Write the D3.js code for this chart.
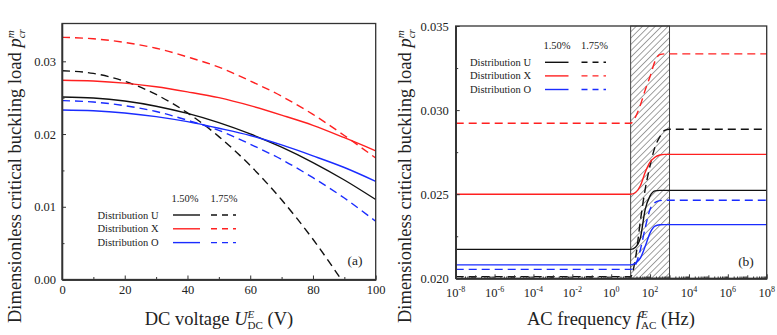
<!doctype html>
<html lang="en">
<head>
    <meta charset="utf-8">
    <script src="https://d3js.org/d3.v7.min.js"></script>
    <style>
        body { margin: 0; background: #fff; }
        svg text { font-family: "Liberation Serif", "Times New Roman", "DejaVu Serif", serif !important; fill: #222; }
    </style>
</head>
<body>
<script>
    // ---- Panel (a): buckling load vs DC voltage ----
    const dcVoltage    = [0, 10, 20, 30, 40, 50, 60, 70, 80, 90, 100];
    const dcVoltageU175 = [0, 10, 20, 30, 40, 50, 60, 70, 80, 89];
    const dcU150 = [0.0251, 0.02496, 0.02454, 0.02383, 0.02284, 0.02158, 0.02002, 0.01819, 0.01608, 0.01368, 0.0110];
    const dcU175 = [0.0287, 0.02834, 0.02725, 0.02544, 0.02291, 0.01965, 0.01567, 0.01096, 0.00553, 0.0];
    const dcX150 = [0.0274, 0.0273, 0.0270, 0.0265, 0.0258, 0.0250, 0.0239, 0.0226, 0.0212, 0.0195, 0.0177];
    const dcX175 = [0.0333, 0.0331, 0.0326, 0.0318, 0.0306, 0.0292, 0.0273, 0.0252, 0.0227, 0.0198, 0.0167];
    const dcO150 = [0.0233, 0.0232, 0.0229, 0.0224, 0.0217, 0.0208, 0.0198, 0.0185, 0.0170, 0.0154, 0.0135];
    const dcO175 = [0.0246, 0.0244, 0.0239, 0.0231, 0.0219, 0.0205, 0.0186, 0.0165, 0.0140, 0.0112, 0.0080];

    // ---- Panel (b): buckling load vs AC frequency ----
    const acFreq = [1e-8, 10, 17.8, 31.6, 56.2, 100, 178, 316, 562, 1000, 1e8];
    const acU150 = [0.02172, 0.02172, 0.02185, 0.0224, 0.0241, 0.0249, 0.0252, 0.02523, 0.02523, 0.02523, 0.02523];
    const acU175 = [0.0201, 0.0201, 0.0212, 0.0234, 0.0253, 0.0267, 0.0278, 0.0284, 0.0288, 0.02886, 0.02886];
    const acX150 = [0.0250, 0.0250, 0.0251, 0.0255, 0.0263, 0.0269, 0.0272, 0.02733, 0.02737, 0.02737, 0.02737];
    const acX175 = [0.02922, 0.02922, 0.0296, 0.0303, 0.0312, 0.0320, 0.0329, 0.0333, 0.03334, 0.03334, 0.03334];
    const acO150 = [0.0208, 0.0208, 0.0209, 0.0212, 0.0219, 0.0227, 0.0231, 0.02318, 0.02319, 0.02319, 0.02319];
    const acO175 = [0.02053, 0.02053, 0.0208, 0.0217, 0.0230, 0.0241, 0.0245, 0.02462, 0.02464, 0.02464, 0.02464];
    const hatchRange = [10, 1000];

    // ticks and legend text
    const dcXTicks = [0, 20, 40, 60, 80, 100];
    const dcXMinor = [10, 30, 50, 70, 90];
    const dcYTicks = [0, 0.01, 0.02, 0.03];
    const dcYMinor = [0.005, 0.015, 0.025];
    const acXTickExp = [-8, -6, -4, -2, 0, 2, 4, 6, 8];
    const acYTicks = [0.020, 0.025, 0.030, 0.035];
    const acYMinor = [0.0225, 0.0275, 0.0325];
    const legendRows = ["Distribution U", "Distribution X", "Distribution O"];
    const legendCols = ["1.50%", "1.75%"];

    const colors = ["#111111", "#ff2020", "#1a2cff"];
    const dashes = "8,5";
    const serif = "'Liberation Serif', 'Times New Roman', serif";

    const svg = d3.select("body").append("svg")
        .attr("width", 777).attr("height", 335)
        .attr("font-family", serif);

    // hatch pattern for the transition band
    const defs = svg.append("defs");
    const pat = defs.append("pattern")
        .attr("id", "hatch").attr("patternUnits", "userSpaceOnUse")
        .attr("width", 4.5).attr("height", 4.5)
        .attr("patternTransform", "rotate(45)");
    pat.append("line").attr("x1", 0).attr("y1", 0).attr("x2", 0).attr("y2", 4.5)
        .attr("stroke", "#444").attr("stroke-width", 1);

    // builds a label like "DC voltage U^E_DC (V)" with stacked sup/sub
    function fancyLabel(t, pre, sym, sup, sub, post, size) {
        t.append("tspan").text(pre);
        t.append("tspan").attr("font-style", "italic").text(sym);
        const small = size * 0.6;
        const s1 = t.append("tspan").attr("font-style", "italic").attr("font-size", small)
            .attr("dy", -size * 0.38).text(sup);
        const w = s1.node().getComputedTextLength();
        t.append("tspan").attr("font-size", small).attr("font-style", sub.italic ? "italic" : null)
            .attr("dx", -w).attr("dy", size * 0.62).text(sub.text);
        if (post) t.append("tspan").attr("dy", -size * 0.24).text(post);
    }

    /* ---------- Panel (a) ---------- */
    const ax = d3.scaleLinear().domain([0, 100]).range([62, 375.7]);
    const ay = d3.scaleLinear().domain([0, 0.0352]).range([279.5, 23.5]);

    const gA = svg.append("g");
    const lineA = d3.line().x(d => ax(d[0])).y(d => ay(d[1])).curve(d3.curveMonotoneX);
    const dcSeries = [
        { v: dcVoltage, y: dcU150, c: 0, dash: false },
        { v: dcVoltageU175, y: dcU175, c: 0, dash: true },
        { v: dcVoltage, y: dcX150, c: 1, dash: false },
        { v: dcVoltage, y: dcX175, c: 1, dash: true },
        { v: dcVoltage, y: dcO150, c: 2, dash: false },
        { v: dcVoltage, y: dcO175, c: 2, dash: true }
    ];
    dcSeries.forEach(s => {
        gA.append("path")
            .datum(s.v.map((v, i) => [v, s.y[i]]))
            .attr("fill", "none")
            .attr("stroke", colors[s.c])
            .attr("stroke-width", 1.4)
            .attr("stroke-dasharray", s.dash ? dashes : null)
            .attr("d", lineA);
    });

    // axes (ticks inside)
    gA.append("g").attr("transform", "translate(0,279.5)")
        .call(d3.axisBottom(ax).tickValues(dcXTicks).tickSizeInner(-4).tickSizeOuter(0).tickPadding(6));
    gA.append("g").attr("transform", "translate(0,279.5)")
        .call(d3.axisBottom(ax).tickValues(dcXMinor).tickSizeInner(-2.5).tickSizeOuter(0).tickFormat(""));
    gA.append("g").attr("transform", "translate(62,0)")
        .call(d3.axisLeft(ay).tickValues(dcYTicks).tickFormat(d3.format(".2f")).tickSizeInner(-4).tickSizeOuter(0).tickPadding(6));
    gA.append("g").attr("transform", "translate(62,0)")
        .call(d3.axisLeft(ay).tickValues(dcYMinor).tickSizeInner(-2.5).tickSizeOuter(0).tickFormat(""));

    gA.append("rect").attr("x", 62).attr("y", 23.5).attr("width", 375.7 - 62).attr("height", 279.5 - 23.5)
        .attr("fill", "none").attr("stroke", "#333").attr("stroke-width", 1.3);

    gA.append("text").attr("x", 355).attr("y", 265).attr("text-anchor", "middle")
        .attr("font-size", 13.5).text("(a)");

    // legend
    function drawLegend(g, x0, y0, rowH, lineX, dashX) {
        g.append("text").attr("x", lineX[0] + 12).attr("y", y0 - rowH * 0.95)
            .attr("text-anchor", "middle").attr("font-size", 10.5).text(legendCols[0]);
        g.append("text").attr("x", dashX[0] + 13).attr("y", y0 - rowH * 0.95)
            .attr("text-anchor", "middle").attr("font-size", 10.5).text(legendCols[1]);
        legendRows.forEach((r, i) => {
            const yy = y0 + i * rowH;
            g.append("text").attr("x", x0).attr("y", yy + 3.5).attr("font-size", 10.5).text(r);
            g.append("line").attr("x1", lineX[0]).attr("x2", lineX[1]).attr("y1", yy).attr("y2", yy)
                .attr("stroke", colors[i]).attr("stroke-width", 1.4);
            g.append("line").attr("x1", dashX[0]).attr("x2", dashX[1]).attr("y1", yy).attr("y2", yy)
                .attr("stroke", colors[i]).attr("stroke-width", 1.4).attr("stroke-dasharray", "6,5");
        });
    }
    drawLegend(gA, 97.5, 215, 13.8, [173, 200], [211, 236]);

    /* ---------- Panel (b) ---------- */
    const bx = d3.scaleLog().domain([1e-8, 1e8]).range([455.7, 766.7]);
    const by = d3.scaleLinear().domain([0.020, 0.035]).range([278.3, 26]);
    const gB = svg.append("g");

    gB.append("rect")
        .attr("x", bx(hatchRange[0])).attr("y", by(0.035))
        .attr("width", bx(hatchRange[1]) - bx(hatchRange[0]))
        .attr("height", by(0.020) - by(0.035))
        .attr("fill", "url(#hatch)").attr("stroke", "#444").attr("stroke-width", 1);

    const lineB = d3.line().x(d => bx(d[0])).y(d => by(d[1])).curve(d3.curveMonotoneX);
    const acSeries = [
        { y: acX175, c: 1, dash: true },
        { y: acU175, c: 0, dash: true },
        { y: acX150, c: 1, dash: false },
        { y: acU150, c: 0, dash: false },
        { y: acO175, c: 2, dash: true },
        { y: acO150, c: 2, dash: false }
    ];
    acSeries.forEach(s => {
        gB.append("path")
            .datum(acFreq.map((f, i) => [f, s.y[i]]))
            .attr("fill", "none")
            .attr("stroke", colors[s.c])
            .attr("stroke-width", 1.4)
            .attr("stroke-dasharray", s.dash ? dashes : null)
            .attr("d", lineB);
    });

    // log x ticks: majors every two decades, minors every decade and sub-decade
    const majorF = acXTickExp.map(e => Math.pow(10, e));
    const decadeF = d3.range(-7, 8, 2).map(e => Math.pow(10, e));
    const subF = [];
    for (let e = -8; e < 8; e++) for (let k = 2; k < 10; k++) subF.push(k * Math.pow(10, e));
    gB.append("g").attr("transform", "translate(0,278.3)")
        .call(d3.axisBottom(bx).tickValues(majorF).tickSizeInner(-4).tickSizeOuter(0).tickFormat(""));
    gB.append("g").attr("transform", "translate(0,278.3)")
        .call(d3.axisBottom(bx).tickValues(decadeF).tickSizeInner(-3).tickSizeOuter(0).tickFormat(""));
    gB.append("g").attr("transform", "translate(0,278.3)")
        .call(d3.axisBottom(bx).tickValues(subF).tickSizeInner(-1.8).tickSizeOuter(0).tickFormat(""));
    acXTickExp.forEach(e => {
        const t = gB.append("text").attr("x", bx(Math.pow(10, e))).attr("y", 297)
            .attr("text-anchor", "middle").attr("font-size", 12.5);
        t.append("tspan").text("10");
        t.append("tspan").attr("font-size", 8).attr("dy", -5).text(e < 0 ? "-" + (-e) : e);
    });

    gB.append("g").attr("transform", "translate(455.7,0)")
        .call(d3.axisLeft(by).tickValues(acYTicks).tickFormat(d3.format(".3f")).tickSizeInner(-4).tickSizeOuter(0).tickPadding(7));
    gB.append("g").attr("transform", "translate(455.7,0)")
        .call(d3.axisLeft(by).tickValues(acYMinor).tickSizeInner(-2.5).tickSizeOuter(0).tickFormat(""));

    gB.append("rect").attr("x", 455.7).attr("y", 26).attr("width", 766.7 - 455.7).attr("height", 278.3 - 26)
        .attr("fill", "none").attr("stroke", "#333").attr("stroke-width", 1.3);

    gB.append("text").attr("x", 746).attr("y", 266).attr("text-anchor", "middle")
        .attr("font-size", 13.5).text("(b)");

    drawLegend(gB, 470, 62.3, 13.6, [545, 568.5], [581.5, 606]);

    // style axes
    svg.selectAll("g").attr("font-family", serif);
    svg.selectAll(".domain").attr("stroke", "#333").attr("stroke-width", 1.3);
    svg.selectAll(".tick line").attr("stroke", "#333");
    svg.selectAll(".tick text").attr("font-size", 12.5).attr("fill", "#222");

    // axis titles
    fancyLabel(svg.append("text").attr("x", 219).attr("y", 325).attr("text-anchor", "middle").attr("font-size", 18.5),
        "DC voltage ", "U", "E", { text: "DC", italic: false }, " (V)", 18.5);
    fancyLabel(svg.append("text").attr("x", 611).attr("y", 325).attr("text-anchor", "middle").attr("font-size", 18.5),
        "AC frequency ", "f", "E", { text: "AC", italic: false }, " (Hz)", 18.5);
    fancyLabel(svg.append("text").attr("transform", "translate(21,323) rotate(-90)").attr("font-size", 18.5),
        "Dimensionless critical buckling load ", "p", "m", { text: "cr", italic: true }, "", 18.5);
    fancyLabel(svg.append("text").attr("transform", "translate(411,323) rotate(-90)").attr("font-size", 18.5),
        "Dimensionless critical buckling load ", "p", "m", { text: "cr", italic: true }, "", 18.5);
</script>
</body>
</html>
